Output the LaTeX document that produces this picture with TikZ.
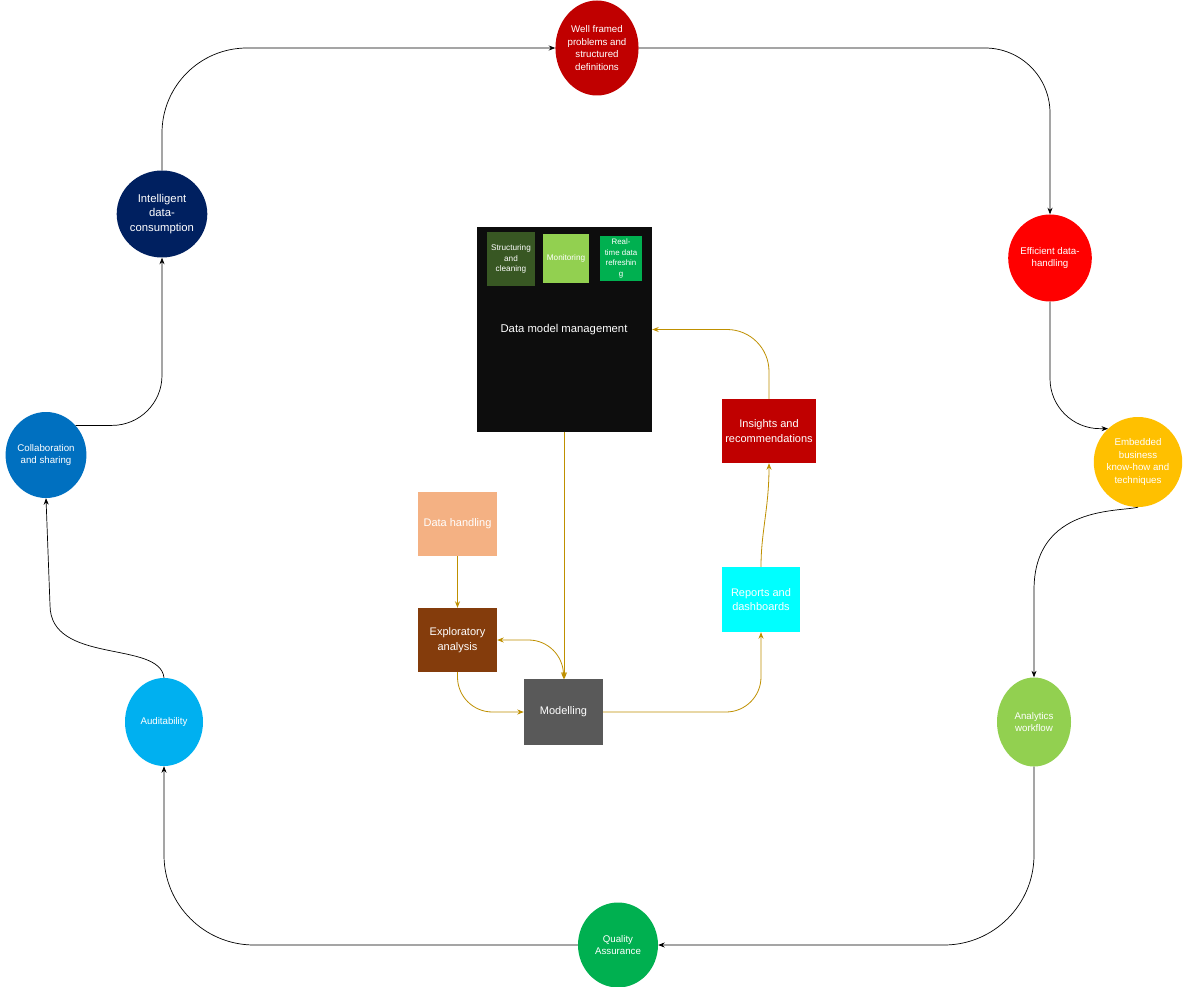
\documentclass[tikz,border=0pt]{standalone}
\usepackage{fontspec}
\setmainfont{Liberation Sans}
\usetikzlibrary{shapes.geometric,arrows.meta}
\definecolor{cWell}{RGB}{192,0,0}
\definecolor{cEff}{RGB}{255,0,0}
\definecolor{cEmb}{RGB}{255,192,0}
\definecolor{cAna}{RGB}{146,208,80}
\definecolor{cQA}{RGB}{0,176,80}
\definecolor{cAud}{RGB}{0,176,240}
\definecolor{cCol}{RGB}{0,112,192}
\definecolor{cInt}{RGB}{0,32,96}
\definecolor{cIns}{RGB}{192,0,0}
\definecolor{cRep}{RGB}{0,255,255}
\definecolor{cDH}{RGB}{244,177,131}
\definecolor{cEA}{RGB}{132,60,12}
\definecolor{cMod}{RGB}{89,89,89}
\definecolor{cStr}{RGB}{56,87,35}
\definecolor{cMon}{RGB}{146,208,80}
\definecolor{cRT}{RGB}{0,176,80}
\definecolor{cBlack}{RGB}{13,13,13}
\definecolor{cGold}{RGB}{191,144,0}
\tikzset{
  circ/.style={ellipse, inner sep=0pt, text=white, align=center,
    font=\fontsize{9.7}{12.5}\selectfont},
  boxn/.style={rectangle, inner sep=0pt, text=white, align=center,
    font=\fontsize{11}{14.5}\selectfont},
  smallbox/.style={rectangle, inner sep=0pt, text=white, align=center,
    font=\fontsize{8.2}{10.8}\selectfont},
  tip/.tip={Stealth[length=6.5pt,width=5pt]},
  conn/.style={draw=black, line width=0.7pt, -tip},
  gconn/.style={draw=cGold, line width=0.8pt, -tip},
}
\begin{document}
\begin{tikzpicture}[x=1pt,y=-1pt]
\useasboundingbox (0,0) rectangle (1184,987);
\fill[white] (0,0) rectangle (1184,987);

% outer circles
\node[circ, fill=cWell, minimum width=80, minimum height=95] (well) at (597,48) {Well framed\\problems and\\structured\\definitions};
\node[circ, fill=cEff, minimum width=80, minimum height=87] (eff) at (1050,258) {Efficient data-\\handling};
\node[circ, fill=cEmb, minimum width=82, minimum height=90] (emb) at (1138,462) {Embedded\\business\\know-how and\\techniques};
\node[circ, fill=cAna, minimum width=74, minimum height=89] (ana) at (1034,722) {Analytics\\workflow};
\node[circ, fill=cQA, minimum width=80, minimum height=85] (qa) at (618,945) {Quality\\Assurance};
\node[circ, fill=cAud, minimum width=78, minimum height=88] (aud) at (164,722) {Auditability};
\node[circ, fill=cCol, minimum width=80, minimum height=86] (col) at (46,455) {Collaboration\\and sharing};
\node[circ, fill=cInt, minimum width=80, minimum height=87, font=\fontsize{11.3}{14.7}\selectfont] (int) at (162,214) {Intelligent\\data-\\consumption};

% central black box
\node[rectangle, fill=cBlack, inner sep=0pt, minimum width=175, minimum height=205] (dmm) at (564.5,329.5) {};
\node[text=white, font=\fontsize{11.3}{14}\selectfont, inner sep=0pt] (dmmt) at (564,330) {Data model management};
\node[smallbox, fill=cStr, minimum width=48, minimum height=54] (str) at (511,259) {Structuring\\and\\cleaning};
\node[smallbox, fill=cMon, minimum width=46, minimum height=49] (mon) at (566,258.5) {Monitoring};
\node[smallbox, fill=cRT, minimum width=42, minimum height=45, font=\fontsize{7.9}{10.6}\selectfont] (rt) at (621,258.5) {Real-\\time data\\refreshin\\g};

% inner boxes
\node[boxn, fill=cDH, minimum width=79, minimum height=64] (dh) at (457.5,524) {Data handling};
\node[boxn, fill=cEA, minimum width=79, minimum height=64] (ea) at (457.5,640) {Exploratory\\analysis};
\node[boxn, fill=cMod, minimum width=79, minimum height=66] (mod) at (563.5,712) {Modelling};
\node[boxn, fill=cRep, minimum width=78, minimum height=65] (rep) at (761,599.5) {Reports and\\dashboards};
\node[boxn, fill=cIns, minimum width=94, minimum height=64] (ins) at (769,431) {Insights and\\recommendations};

% outer connectors
\draw[conn, rounded corners=85pt] (int.north) |- (well.west);
\draw[conn, rounded corners=65pt] (well.east) -| (eff.north);
\draw[conn, rounded corners=50pt] (eff.south) |- (emb.132);
\draw[conn] (emb.south) .. controls (1120,512) and (1034,505) .. (1034,590) -- (ana.north);
\draw[conn, rounded corners=90pt] (ana.south) |- (qa.east);
\draw[conn, rounded corners=90pt] (qa.west) -| (aud.south);
\coordinate (ac) at (50,605);
\draw[conn] (aud.north) .. controls (160,640) and (50,665) .. (ac) -- (col.south);
\draw[conn, rounded corners=50pt] (col.45) -| (int.south);

% inner connectors
\draw[gconn] (dmm.south) -- (dmm.south |- mod.north);
\draw[gconn] (dh.south) -- (ea.north);
\draw[gconn, tip-tip, rounded corners=35pt] (ea.east) -| (mod.north);
\draw[gconn, rounded corners=35pt] (ea.south) |- (mod.west);
\draw[gconn, rounded corners=35pt] (mod.east) -| (rep.south);
\draw[gconn] (rep.north) .. controls +(0,-35) and +(0,45) .. (ins.south);
\draw[gconn, rounded corners=42pt] (ins.north) |- (dmm.east);
\end{tikzpicture}
\end{document}
